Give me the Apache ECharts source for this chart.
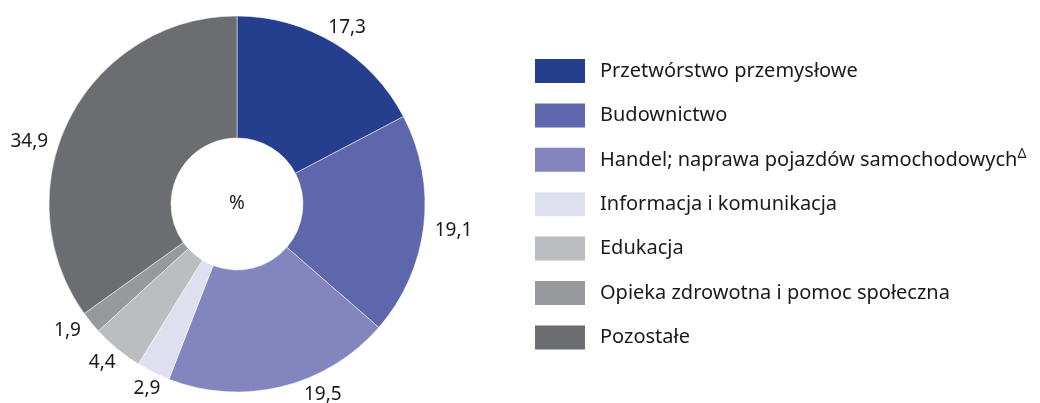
<!DOCTYPE html>
<html>
<head>
<meta charset="utf-8">
<script src="https://cdn.jsdelivr.net/npm/echarts@6/dist/echarts.min.js"></script>
<style>
  html, body { margin: 0; padding: 0; background: #fff; }
  #chart { width: 1040px; height: 403px; }
</style>
</head>
<body>
<div id="chart"></div>
<script>
const categories = [
  'Przetwórstwo przemysłowe',
  'Budownictwo',
  'Handel; naprawa pojazdów samochodowych',
  'Informacja i komunikacja',
  'Edukacja',
  'Opieka zdrowotna i pomoc społeczna',
  'Pozostałe'
];
const shares = [17.3, 19.1, 19.5, 2.9, 4.4, 1.9, 34.9];
const colors = ['#253f8e', '#5e67ab', '#8385bf', '#dfe0ef', '#bcbdc0', '#98999d', '#6c6d71'];

const font = '"Noto Sans", sans-serif';
const textColor = '#1a1a1a';

// small hand nudges so value labels sit where the original put them
const labelOffsets = [[-13, -12], [2, 4], [16, 4], [14, 13], [6, 11], [-2, 6], [-13, 25]];

const chart = echarts.init(document.getElementById('chart'), null, { renderer: 'canvas' });

const option = {
  animation: false,
  color: colors,
  graphic: [{
    type: 'text',
    x: 237,
    y: 204,
    style: {
      text: '%',
      align: 'center',
      verticalAlign: 'middle',
      font: '19px "Noto Sans", sans-serif',
      fill: textColor
    }
  }],
  legend: {
    orient: 'vertical',
    left: 533,
    top: 57,
    padding: 0,
    itemWidth: 52,
    itemHeight: 26,
    itemGap: 16.4,
    icon: 'rect',
    selectedMode: false,
    data: categories,
    formatter: function (name) {
      return name === categories[2] ? name + '{sup|Δ}' : name;
    },
    textStyle: {
      fontFamily: font,
      fontSize: 20,
      lineHeight: 26,
      color: textColor,
      padding: [0, 0, 0, 9],
      rich: {
        sup: { fontFamily: font, fontSize: 14, color: textColor, verticalAlign: 'bottom', lineHeight: 26, padding: [0, 0, 12, 0] }
      }
    }
  },
  series: [
    {
      type: 'pie',
      center: [237, 204],
      radius: [66, 188],
      startAngle: 90,
      clockwise: true,
      avoidLabelOverlap: false,
      itemStyle: { borderColor: '#ffffff', borderWidth: 0.5 },
      label: {
        show: true,
        position: 'outside',
        fontFamily: font,
        fontSize: 19,
        color: textColor,
        formatter: function (p) { return String(p.value).replace('.', ','); }
      },
      labelLine: { show: false, length: 4, length2: 0 },
      emphasis: { disabled: true },
      data: categories.map(function (name, i) {
        return { name: name, value: shares[i], label: { offset: labelOffsets[i] } };
      })
    }
  ]
};

chart.setOption(option);
</script>
</body>
</html>
